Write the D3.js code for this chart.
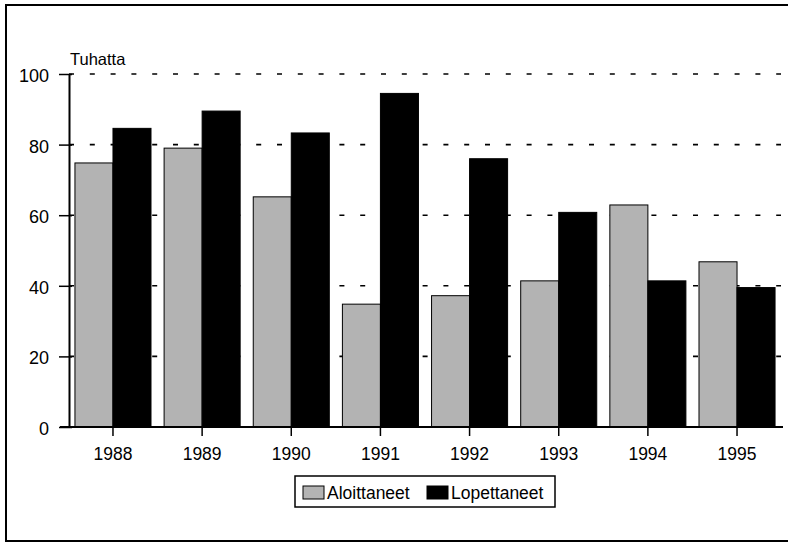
<!DOCTYPE html>
<html>
<head>
<meta charset="utf-8">
<script src="https://cdn.jsdelivr.net/npm/d3@7"></script>
<style>
  html, body { margin: 0; padding: 0; background: #fff; }
  svg { display: block; }
  text { font-family: "Liberation Sans", Arial, sans-serif; fill: #000; }
</style>
</head>
<body>
<svg id="chart" width="788" height="543"></svg>
<script>
const years = ["1988", "1989", "1990", "1991", "1992", "1993", "1994", "1995"];
const seriesNames = ["Aloittaneet", "Lopettaneet"];
const aloittaneet = [74.8, 79.0, 65.2, 34.8, 37.2, 41.4, 62.9, 46.8];
const lopettaneet = [84.6, 89.5, 83.3, 94.5, 76.0, 60.8, 41.4, 39.5];
const yTicks = [0, 20, 40, 60, 80, 100];
const yLabel = "Tuhatta";

const svg = d3.select("#chart");
const fills = ["#b3b3b3", "#000"];

// outer frame
svg.append("rect").attr("x", 6).attr("y", 5).attr("width", 800).attr("height", 536)
  .attr("fill", "none").attr("stroke", "#000").attr("stroke-width", 2);

const x0 = 68.4, x1 = 781.6;
const x = d3.scaleBand().domain(years).range([x0, x1]).paddingInner(0.147).paddingOuter(0.0735);
const xs = d3.scaleBand().domain(seriesNames).range([0, x.bandwidth()]);
const y = d3.scaleLinear().domain([0, 100]).range([427, 74]);

// gridlines
svg.append("g").selectAll("line").data(yTicks.filter(d => d > 0)).join("line")
  .attr("x1", 69).attr("x2", 781)
  .attr("y1", d => y(d)).attr("y2", d => y(d))
  .attr("stroke", "#000").attr("stroke-width", 1.6)
  .attr("stroke-dasharray", "5,15.8");

// bars
const data = years.map((yr, i) => ({ year: yr, vals: [aloittaneet[i], lopettaneet[i]] }));
const groups = svg.append("g").selectAll("g").data(data).join("g")
  .attr("transform", d => `translate(${x(d.year)},0)`);
groups.selectAll("rect").data(d => d.vals.map((v, j) => ({ name: seriesNames[j], v, j })))
  .join("rect")
  .attr("x", d => xs(d.name))
  .attr("width", xs.bandwidth())
  .attr("y", d => y(d.v))
  .attr("height", d => y(0) - y(d.v))
  .attr("fill", d => fills[d.j])
  .attr("stroke", "#000").attr("stroke-width", 1);

// y axis
const yAxis = d3.axisLeft(y).tickValues(yTicks).tickSize(10).tickSizeOuter(0).tickPadding(10);
const gy = svg.append("g").attr("transform", "translate(69,0)").call(yAxis);
gy.select(".domain").attr("stroke", "#000").attr("stroke-width", 2);
gy.selectAll(".tick line").attr("stroke", "#000").attr("stroke-width", 1.5).attr("x2", -10).attr("x1", 3);
gy.selectAll(".tick text").attr("font-size", 18).attr("dy", "0.42em")
  .style("font-family", "'Liberation Sans', Arial, sans-serif");

// x axis
const xAxis = d3.axisBottom(x).tickSize(9).tickSizeOuter(0).tickPadding(12);
const gx = svg.append("g").attr("transform", "translate(0,427)").call(xAxis);
gx.select(".domain").attr("stroke", "#000").attr("stroke-width", 2)
  .attr("d", `M60,0H783`);
gx.selectAll(".tick line").attr("stroke", "#000").attr("stroke-width", 1.5);
gx.selectAll(".tick text").attr("font-size", 17.5)
  .style("font-family", "'Liberation Sans', Arial, sans-serif");

// y label
svg.append("text").attr("x", 70).attr("y", 65).attr("font-size", 16.5).text(yLabel);

// legend
const lg = svg.append("g");
lg.append("rect").attr("x", 295).attr("y", 476).attr("width", 260).attr("height", 31)
  .attr("fill", "#fff").attr("stroke", "#000").attr("stroke-width", 1.5);
const legendItems = [
  { name: seriesNames[0], fill: fills[0], sx: 303, tx: 327 },
  { name: seriesNames[1], fill: fills[1], sx: 427, tx: 451 }
];
legendItems.forEach(it => {
  lg.append("rect").attr("x", it.sx).attr("y", 486).attr("width", 21).attr("height", 13)
    .attr("fill", it.fill).attr("stroke", "#000").attr("stroke-width", 1);
  lg.append("text").attr("x", it.tx).attr("y", 499).attr("font-size", 17.5).text(it.name);
});
</script>
</body>
</html>
